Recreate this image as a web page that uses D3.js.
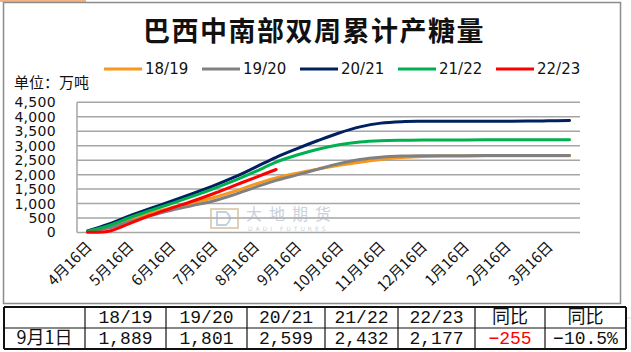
<!DOCTYPE html>
<html><head><meta charset="utf-8">
<script src="https://cdn.jsdelivr.net/npm/d3@7"></script>
<style>
html,body{margin:0;padding:0;background:#fff;}
svg{display:block;}
</style></head>
<body>
<svg id="c" width="631" height="352"></svg>
<script>
// ---------- data ----------
const categories = ['4月16日','5月1日','5月16日','6月1日','6月16日','7月1日','7月16日','8月1日','8月16日','9月1日','9月16日','10月1日','10月16日','11月1日','11月16日','12月1日','12月16日','1月1日','1月16日','2月1日','2月16日','3月1日','3月16日','4月1日'];
const seriesNames = ['18/19','19/20','20/21','21/22','22/23'];
const s1819 = [40,190,420,660,860,1020,1200,1420,1670,1889,2050,2190,2320,2430,2520,2590,2630,2645,2648,2650,2651,2651,2652,2652];
const s1920 = [30,150,370,580,770,930,1090,1310,1560,1801,1990,2190,2380,2520,2600,2640,2652,2655,2656,2657,2658,2659,2659,2660];
const s2021 = [50,290,570,830,1080,1340,1610,1910,2250,2599,2900,3180,3440,3650,3780,3830,3842,3844,3845,3846,3848,3852,3860,3875];
const s2122 = [45,235,510,760,1000,1250,1510,1790,2100,2432,2680,2880,3030,3125,3170,3188,3196,3200,3201,3202,3203,3204,3205,3206];
const s2223 = [10,40,310,590,840,1080,1340,1620,1900,2177];
const yTicks = [0,500,1000,1500,2000,2500,3000,3500,4000,4500];
const tableHeader = ['', '18/19','19/20','20/21','21/22','22/23','同比','同比'];
const tableRow = ['9月1日','1,889','1,801','2,599','2,432','2,177','\u2212255','\u221210.5%'];

// ---------- styles ----------
const colors = ['#f7981d','#808080','#002060','#00b050','#ff0000'];
const allSeries = [s1819,s1920,s2021,s2122,s2223];

const svg = d3.select('#c');

svg.append('rect').attr('x',0).attr('y',0).attr('width',86).attr('height',2).attr('fill','#f4b183');

// chart border
svg.append('rect').attr('x',3.5).attr('y',2.5).attr('width',617).attr('height',301)
  .attr('fill','#fff').attr('stroke','#8c8c8c').attr('stroke-width',1.5);

// title
svg.append('text').attr('x',314).attr('y',41).attr('text-anchor','middle')
  .attr('font-family','"Noto Sans CJK SC"').attr('font-weight',700).attr('font-size',27)
  .attr('letter-spacing',1.5).attr('fill','#111').text('巴西中南部双周累计产糖量');

// unit
svg.append('text').attr('x',14).attr('y',88).attr('font-family','"Noto Sans CJK SC"')
  .attr('font-size',15).attr('fill','#111').text('单位：万吨');

// scales
const x = d3.scalePoint().domain(categories).range([77,580]).padding(0.5);
const y = d3.scaleLinear().domain([0,4500]).range([232.5,102.3]);

// gridlines
svg.append('g').selectAll('line').data(yTicks).join('line')
  .attr('x1',77).attr('x2',580).attr('y1',d=>y(d)).attr('y2',d=>y(d))
  .attr('stroke','#a6a6a6').attr('stroke-width',1.5);
svg.append('line').attr('x1',77).attr('x2',77).attr('y1',y(4500)).attr('y2',y(0))
  .attr('stroke','#a6a6a6').attr('stroke-width',1.5);

// y axis labels
const yAxis = d3.axisLeft(y).tickValues(yTicks).tickFormat(d3.format(',')).tickSize(0).tickPadding(0);
const ya = svg.append('g').attr('transform','translate(56,0)').call(yAxis);
ya.select('.domain').remove();
ya.selectAll('text').attr('font-family','"DejaVu Sans"').attr('font-size',14).attr('letter-spacing',0.3).attr('fill','#111');

// x axis labels
const xAxis = d3.axisBottom(x).tickValues(categories.filter((d,i)=>i%2===0)).tickSize(0);
const xa = svg.append('g').attr('transform','translate(0,236)').call(xAxis);
xa.select('.domain').remove();
xa.selectAll('text').attr('font-family','"Noto Sans CJK SC"').attr('font-size',15).attr('fill','#111')
  .attr('text-anchor','end').attr('dy','0.35em').attr('dx',0)
  .attr('transform','translate(-1,6) rotate(-45)');

// watermark
const wm = svg.append('g').attr('opacity',0.6);
wm.append('rect').attr('x',211).attr('y',209).attr('width',27).attr('height',19)
  .attr('fill','none').attr('stroke','#c9b48a').attr('stroke-width',2);
wm.append('path').attr('d','M217,212 L226,212 Q234,218 226,225 L217,225 Z').attr('fill','none')
  .attr('stroke','#9fb3cc').attr('stroke-width',2);
wm.append('text').attr('x',246).attr('y',220).attr('font-family','"Noto Sans CJK SC"').attr('font-size',16)
  .attr('letter-spacing',7).attr('fill','#a8b4c4').text('大地期货');
wm.append('text').attr('x',248).attr('y',231).attr('font-family','"DejaVu Sans"').attr('font-size',6)
  .attr('letter-spacing',3).attr('fill','#a8b4c4').text('DADI FUTURES');

// lines
const line = d3.line().x((d,i)=>x(categories[i])).y(d=>y(d)).curve(d3.curveCatmullRom.alpha(0.5));
svg.append('g').selectAll('path').data(allSeries).join('path')
  .attr('d',d=>line(d)).attr('fill','none').attr('stroke',(d,i)=>colors[i])
  .attr('stroke-width',3).attr('stroke-linecap','round');

// legend
const legX = [104,202,300,398,496];
const lg = svg.append('g');
seriesNames.forEach((n,i)=>{
  lg.append('line').attr('x1',legX[i]).attr('x2',legX[i]+38).attr('y1',69).attr('y2',69)
    .attr('stroke',colors[i]).attr('stroke-width',3);
  lg.append('text').attr('x',legX[i]+41).attr('y',74).attr('font-family','"DejaVu Sans"')
    .attr('font-size',15).attr('fill','#111').text(n);
});

// table
const colX = [4,85,166,247,325,398,475,545,626];
const rowY = [307,328,349];
const tb = svg.append('g');
tb.append('line').attr('x1',626).attr('x2',631).attr('y1',318).attr('y2',318).attr('stroke','#d9d9d9');
[0,1].forEach(r=>{
  const data = r===0 ? tableHeader : tableRow;
  data.forEach((t,c)=>{
    const isCJK = /[\u4e00-\u9fff]/.test(t);
    tb.append('text').attr('x',(colX[c]+colX[c+1])/2).attr('y',rowY[r]+16)
      .attr('text-anchor','middle')
      .attr('font-family', isCJK ? '"Noto Sans CJK SC"' : '"Liberation Mono"')
      .attr('font-size', 18).attr('fill', (r===1 && c===6) ? '#ff0000' : '#111')
      .text(t);
  });
});
colX.forEach((cx,i)=>{
  tb.append('line').attr('x1',cx).attr('x2',cx).attr('y1',rowY[0]).attr('y2',rowY[2])
    .attr('stroke','#111').attr('stroke-width',(i===0||i===colX.length-1)?2:1.2);
});
rowY.forEach((ry,i)=>{
  tb.append('line').attr('x1',colX[0]).attr('x2',colX[colX.length-1]).attr('y1',ry).attr('y2',ry)
    .attr('stroke','#111').attr('stroke-width',i===1?1.2:2);
});
</script>
</body></html>
